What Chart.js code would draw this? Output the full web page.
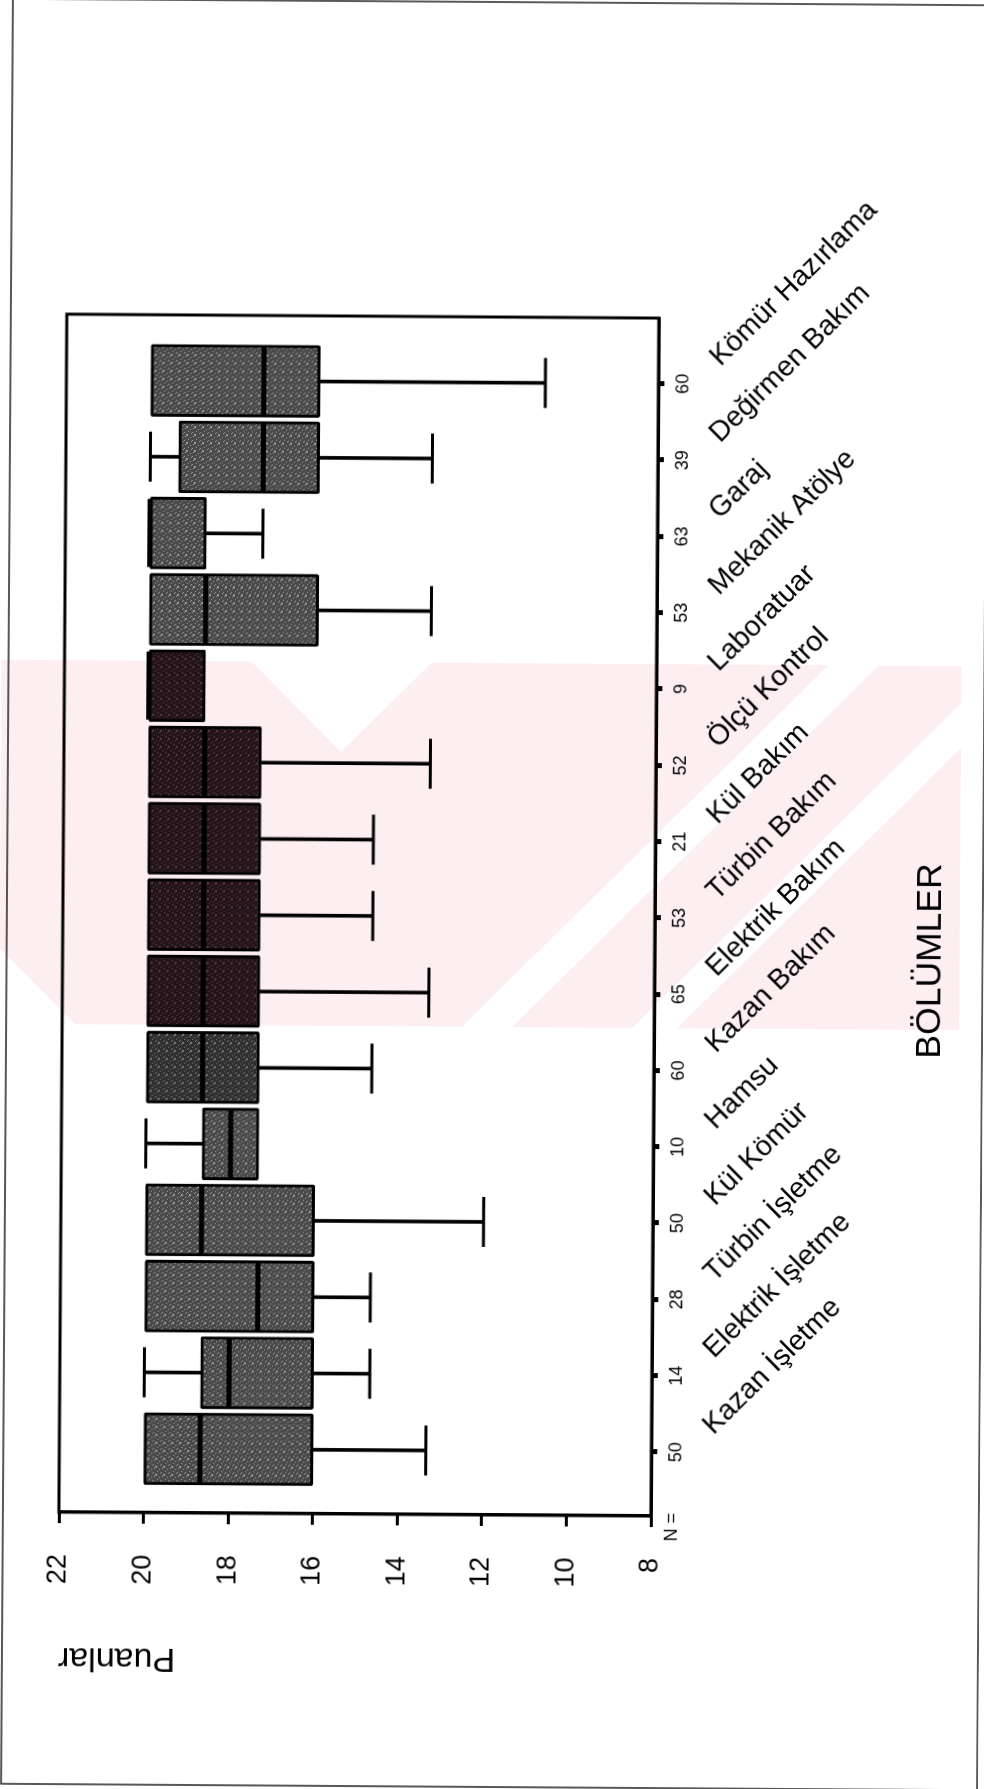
<!DOCTYPE html>
<html>
<head>
<meta charset="utf-8">
<script src="https://cdn.jsdelivr.net/npm/chart.js@4.4.1/dist/chart.umd.min.js"></script>
<style>
  html, body { margin: 0; padding: 0; background: #fff; overflow: hidden; }
  #page { position: absolute; left: 0; top: 0; width: 984px; height: 1789px; transform: rotate(0.38deg); transform-origin: 50% 50%; }
  #turn { position: absolute; left: 0; top: 0; width: 1789px; height: 984px; transform-origin: 0 0; transform: translate(0, 1789px) rotate(-90deg); }
</style>
</head>
<body>
<div id="page"><div id="turn"><canvas id="boxChart" width="1789" height="984"></canvas></div></div>
<script>
// departments, left to right on the original (un-turned) chart
const categories = ['Kazan İşletme', 'Elektrik İşletme', 'Türbin İşletme', 'Kül Kömür', 'Hamsu',
  'Kazan Bakım', 'Elektrik Bakım', 'Türbin Bakım', 'Kül Bakım', 'Ölçü Kontrol',
  'Laboratuar', 'Mekanik Atölye', 'Garaj', 'Değirmen Bakım', 'Kömür Hazırlama'];
const nCounts = [50, 14, 28, 50, 10, 60, 65, 53, 21, 52, 9, 53, 63, 39, 60];

// box plot statistics (Puanlar)
const lowWhisker = [13.33, 14.67, 14.67, 12, 17.33, 14.67, 13.33, 14.67, 14.67, 13.33, 18.67, 13.33, 17.33, 13.33, 10.67];
const q1 = [16, 16, 16, 16, 17.33, 17.33, 17.33, 17.33, 17.33, 17.33, 18.67, 16, 18.67, 16, 16];
const medians = [18.67, 18, 17.33, 18.67, 18, 18.67, 18.67, 18.67, 18.67, 18.67, 20, 18.67, 20, 17.33, 17.33];
const q3 = [20, 18.67, 20, 20, 18.67, 20, 20, 20, 20, 20, 20, 20, 20, 19.33, 20];
const highWhisker = [20, 20, 20, 20, 20, 20, 20, 20, 20, 20, 20, 20, 20, 20, 20];

const valueTicks = [8, 10, 12, 14, 16, 18, 20, 22];

const FONT = '"Liberation Sans", Arial, Helvetica, sans-serif';
Chart.defaults.font.family = FONT;
Chart.defaults.color = '#000';

const idx = categories.map((_, i) => i);
const boxData = idx.map(i => ({ x: i, y: [q1[i], q3[i]] }));
const lowStems = idx.filter(i => lowWhisker[i] < q1[i]).map(i => ({ x: i, y: [lowWhisker[i], q1[i]] }));
const highStems = idx.filter(i => highWhisker[i] > q3[i]).map(i => ({ x: i, y: [q3[i], highWhisker[i]] }));
const caps = lowStems.map(d => ({ x: d.x, y: d.y[0] })).concat(highStems.map(d => ({ x: d.x, y: d.y[1] })));
const medianPts = idx.map(i => ({ x: i, y: medians[i] }));

// grainy grey like the photocopied boxes
function grain(base, light) {
  const c = document.createElement('canvas');
  c.width = c.height = 8;
  const g = c.getContext('2d');
  g.fillStyle = base;
  g.fillRect(0, 0, 8, 8);
  g.fillStyle = light;
  for (let i = 0; i < 8; i++) {
    for (let j = 0; j < 8; j++) {
      if ((i * 5 + j * 3 + i * j) % 7 === 0) g.fillRect(i, j, 1, 1);
    }
  }
  return g.createPattern(c, 'repeat');
}
const greyFill = grain('#4a4a4a', '#9a9a9a');
const darkFill = grain('#22141a', '#5a3a44');
const midFill = grain('#303030', '#777777');

// boxes sitting under the pink watermark came out much darker in the scan
const boxFill = ctx => {
  const i = ctx.dataIndex;
  if (i >= 6 && i <= 10) return darkFill;
  if (i === 5) return midFill;
  return greyFill;
};

// page coords (as photographed) -> canvas coords (canvas is turned by -90deg)
const P = (sx, sy) => [1789 - sy, sx];

const watermark = {
  id: 'watermark',
  beforeDraw(chart) {
    const ctx = chart.ctx;
    const poly = pts => {
      ctx.beginPath();
      pts.forEach((p, k) => { const q = P(p[0], p[1]); k ? ctx.lineTo(q[0], q[1]) : ctx.moveTo(q[0], q[1]); });
      ctx.closePath();
      ctx.fill();
    };
    ctx.save();
    ctx.fillStyle = '#fdeef1';
    poly([[0, 663], [960, 663], [960, 1027], [76, 1027], [0, 951]]);
    ctx.fillStyle = '#fff';
    poly([[250, 663], [430, 663], [340, 753]]);
    [[1490, 1540], [1660, 1705]].forEach(([a, b]) => {
      poly([[a - 663, 663], [b - 663, 663], [b - 1027, 1027], [a - 1027, 1027]]);
    });
    ctx.restore();
  }
};

const sheetText = {
  id: 'sheetText',
  afterDraw(chart) {
    const { ctx, chartArea: a, scales: { x } } = chart;
    ctx.save();

    // plot frame
    ctx.strokeStyle = '#000';
    ctx.lineWidth = 3;
    ctx.strokeRect(a.left, a.top, a.right - a.left, a.bottom - a.top);

    // slanted department names
    ctx.fillStyle = '#000';
    ctx.font = '28.5px ' + FONT;
    ctx.textAlign = 'left';
    ctx.textBaseline = 'alphabetic';
    categories.forEach((name, i) => {
      ctx.save();
      ctx.translate(x.getPixelForValue(i) + 17, a.bottom + 62);
      ctx.rotate(Math.PI / 4);
      ctx.fillText(name, 0, 0);
      ctx.restore();
    });

    ctx.font = '18px ' + FONT;
    ctx.textAlign = 'center';
    ctx.textBaseline = 'middle';
    ctx.fillText('N =', a.left - 11, a.bottom + 21);

    ctx.font = '35.5px ' + FONT;
    ctx.textBaseline = 'alphabetic';
    ctx.fillText('BÖLÜMLER', 831, 941);

    // page edge
    ctx.lineWidth = 1.5;
    ctx.strokeStyle = '#222';
    ctx.strokeRect(2, 7, 1785, 976);
    ctx.restore();
  }
};

new Chart(document.getElementById('boxChart'), {
  type: 'bar',
  data: {
    datasets: [
      {
        type: 'scatter',
        data: medianPts,
        pointStyle: 'line',
        pointRadius: 34,
        pointBorderWidth: 5,
        pointBorderColor: '#000',
        order: 0
      },
      {
        type: 'scatter',
        data: caps,
        pointStyle: 'line',
        pointRadius: 25,
        pointBorderWidth: 3,
        pointBorderColor: '#000',
        order: 1
      },
      {
        data: boxData,
        backgroundColor: boxFill,
        borderColor: '#000',
        borderWidth: 3,
        borderSkipped: false,
        borderRadius: 2,
        grouped: false,
        barPercentage: 1,
        categoryPercentage: 1,
        maxBarThickness: 72,
        order: 2
      },
      {
        data: lowStems.concat(highStems),
        backgroundColor: '#000',
        borderWidth: 0,
        grouped: false,
        barPercentage: 1,
        categoryPercentage: 1,
        maxBarThickness: 3,
        order: 3
      }
    ]
  },
  options: {
    responsive: false,
    animation: false,
    layout: { padding: { left: 0, right: 317, top: 63, bottom: 0 } },
    plugins: { legend: { display: false }, tooltip: { enabled: false } },
    scales: {
      x: {
        type: 'linear',
        position: 'bottom',
        min: -0.84,
        max: 14.86,
        offset: false,
        afterBuildTicks: s => { s.ticks = idx.map(i => ({ value: i })); },
        afterFit: s => { s.height = 329; },
        ticks: {
          callback: v => nCounts[v],
          font: { size: 18 },
          color: '#000',
          padding: 8,
          maxRotation: 0,
          autoSkip: false
        },
        grid: { offset: false, drawOnChartArea: false, drawTicks: true, tickLength: 6, tickWidth: 5, tickColor: '#000', color: '#000' },
        border: { display: true, color: '#000', width: 3 }
      },
      y: {
        min: 8,
        max: 22,
        afterBuildTicks: s => { s.ticks = valueTicks.map(v => ({ value: v })); },
        afterFit: s => { s.width = 274; },
        ticks: { font: { size: 27 }, color: '#000', padding: 31 },
        grid: { drawOnChartArea: false, drawTicks: true, tickLength: 11, tickWidth: 3, tickColor: '#000', color: '#000' },
        border: { display: true, color: '#000', width: 3 },
        title: {
          display: true,
          text: 'Puanlar',
          align: 'end',
          color: '#000',
          font: { size: 34 },
          padding: { top: 108, bottom: 0 }
        }
      }
    }
  },
  plugins: [watermark, sheetText]
});
</script>
</body>
</html>
